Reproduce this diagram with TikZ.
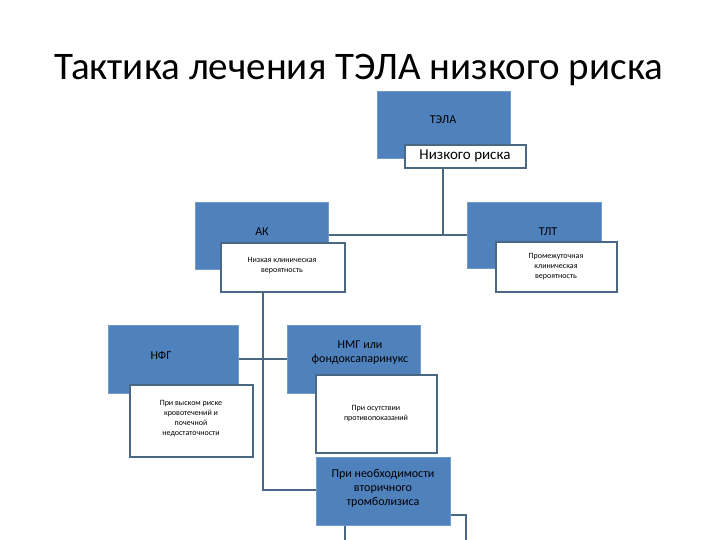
\documentclass[tikz,border=0pt]{standalone}
\usepackage{fontspec}
\setmainfont{Carlito}
\begin{document}
\begin{tikzpicture}[x=1pt,y=-1pt,
 every node/.style={align=center,inner sep=1pt},
 blue/.style={fill=bblue,draw=bblue!80!white,line width=0.8pt},
 wbox/.style={fill=white,draw=lblue,line width=1.2pt},
 conn/.style={draw=lblue,line width=2pt}]
\definecolor{bblue}{HTML}{4F81BD}
\definecolor{lblue}{HTML}{4A6784}
\useasboundingbox (0,0) rectangle (720,540);
\node[font=\fontsize{39}{44}\selectfont] (title) at (359,70) {Тактика лечения ТЭЛА низкого риска};
% top
\draw[blue] (377,91) rectangle (510,158);
\node[font=\fontsize{12}{14}\selectfont] (tela) at (443,120) {ТЭЛА};
\draw[wbox] (405,145) rectangle (526,168);
\node[font=\fontsize{15}{17}\selectfont] (nr) at (465,156) {Низкого риска};
% connectors top
\coordinate (c1) at (443,168);
\coordinate (c2) at (443,235);
\draw[conn] (c1) -- (c2);
\draw[conn] (329,235) -- (467,235);
% TLT
\draw[blue] (467,202) rectangle (601,268);
\node[font=\fontsize{12}{14}\selectfont] (tlt) at (548,232) {ТЛТ};
\draw[wbox] (496,242) rectangle (617,292);
\node[font=\fontsize{8}{10}\selectfont] (pk) at (556,267) {Промежуточная\\клиническая\\вероятность};
% AK
\draw[blue] (195,202) rectangle (328,269);
\node[font=\fontsize{12}{14}\selectfont] (ak) at (262,232) {АК};
\draw[wbox] (221,243) rectangle (345,292);
\node[font=\fontsize{8}{10}\selectfont] (nk) at (282,266) {Низкая клиническая\\вероятность};
% connectors lower
\draw[conn] (263,292) -- (263,490) -- (317,490);
\draw[conn] (239,359) -- (288,359);
% NFG
\draw[blue] (108,325) rectangle (238,393);
\node[font=\fontsize{12}{14}\selectfont] (nfg) at (161,355) {НФГ};
\draw[wbox] (130,385) rectangle (253,457);
\node[font=\fontsize{8}{10}\selectfont] (vr) at (191,419) {При выском риске\\кровотечений и\\почечной\\недостаточности};
% NMG
\draw[blue] (287,325) rectangle (420,393);
\node[font=\fontsize{12}{14}\selectfont] (nmg) at (360,353) {НМГ или\\фондоксапаринукс};
\draw[wbox] (316,375) rectangle (437,453);
\node[font=\fontsize{8}{10}\selectfont] (pp) at (376,414) {При осутствии\\противопоказаний};
% secondary
\draw[wbox] (345,515) rectangle (466,545);
\draw[blue] (316,457) rectangle (450,525);
\node[font=\fontsize{12}{14}\selectfont] (vt) at (383,488) {При необходимости\\вторичного\\тромболизиса};
\end{tikzpicture}
\end{document}
